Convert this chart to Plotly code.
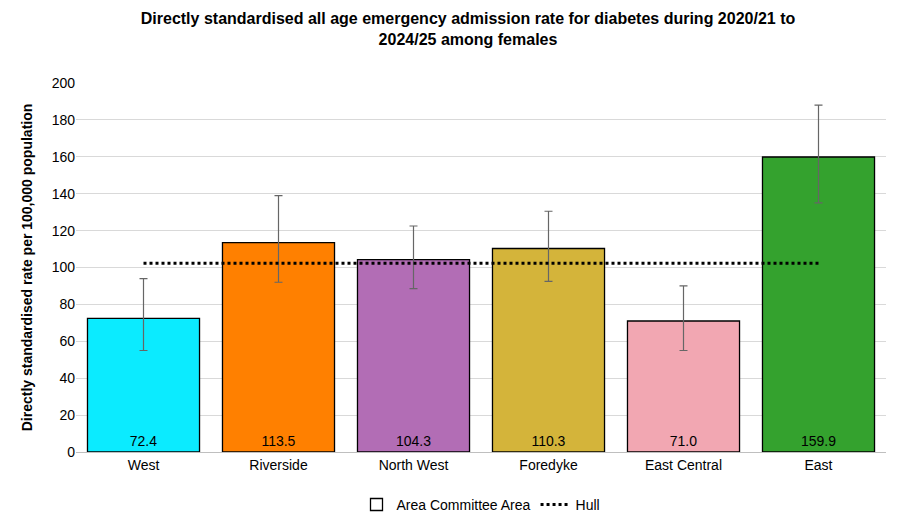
import plotly.graph_objects as go

areas = ["West", "Riverside", "North West", "Foredyke", "East Central", "East"]
rates = [72.4, 113.5, 104.3, 110.3, 71.0, 159.9]
upper_ci = [94.0, 139.0, 122.5, 130.5, 90.0, 188.0]
lower_ci = [55.0, 92.0, 88.5, 92.5, 55.0, 135.0]
hull_rate = 102.3
colours = ["#0BEBFF", "#FF8000", "#B26DB5", "#D4B43A", "#F2A7B2", "#34A22E"]

fig = go.Figure()

fig.add_trace(go.Bar(
    x=areas, y=rates,
    marker=dict(color=colours, line=dict(color="black", width=1.3)),
    error_y=dict(type="data", symmetric=False,
                 array=[u - r for u, r in zip(upper_ci, rates)],
                 arrayminus=[r - l for r, l in zip(rates, lower_ci)],
                 color="#666666", thickness=1.2, width=4),
    text=[f"{v:.1f}" for v in rates], textposition="inside",
    insidetextanchor="start", textangle=0,
    textfont=dict(size=14, color="black"),
    showlegend=False,
))

# legend entry for the bars
fig.add_trace(go.Bar(
    x=[None], y=[None], name="Area Committee Area",
    marker=dict(color="white", line=dict(color="black", width=1.3)),
))

fig.add_trace(go.Scatter(
    x=areas, y=[hull_rate] * len(areas), mode="lines", name="Hull",
    line=dict(color="black", width=3, dash="dot"),
))

fig.update_layout(
    width=920, height=525,
    paper_bgcolor="white", plot_bgcolor="white",
    font=dict(family="Liberation Sans, Arial", size=14, color="black"),
    title=dict(text="<b>Directly standardised all age emergency admission rate for diabetes during 2020/21 to<br>2024/25 among females</b>",
               x=0.5, xanchor="center", y=0.97, font=dict(size=16)),
    margin=dict(l=68, r=42, t=75, b=75),
    bargap=0.17,
    barmode="overlay",
    xaxis=dict(showline=True, linecolor="#bfbfbf", ticks=""),
    yaxis=dict(range=[0, 200], dtick=20, showgrid=True, gridcolor="#d9d9d9",
               zeroline=False, ticks="",
               title=dict(text="<b>Directly standardised rate per 100,000 population</b>", font=dict(size=14))),
    legend=dict(orientation="h", x=0.5, xanchor="center", y=-0.1, yanchor="top",
                font=dict(size=14)),
)

fig.write_html("out.html")
